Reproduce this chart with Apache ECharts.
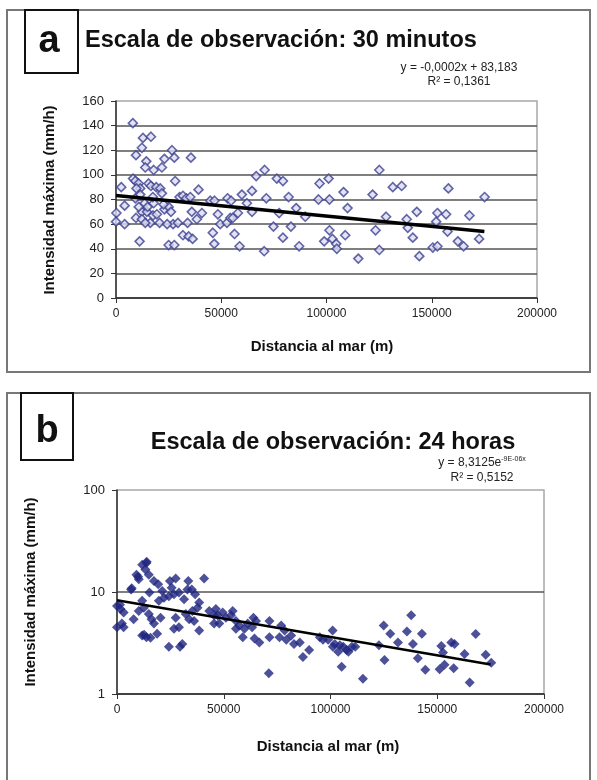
<!DOCTYPE html>
<html>
<head>
<meta charset="utf-8">
<script src="https://cdn.jsdelivr.net/npm/echarts@6/dist/echarts.min.js"></script>
<style>
html,body{margin:0;padding:0;background:#fff;}
#c{width:597px;height:780px;}
</style>
</head>
<body>
<div id="c"></div>
<script>
// ---- Panel a: 30 minutos (distance m, intensity mm/h)
var pointsA = [
[8000,142],[12800,130],[16600,131],[12300,122],[9500,116],[14400,111],[13900,106],[17900,104],[21800,106],[23000,113],[26600,120],[27700,114],[35600,114],
[8100,97],[9200,95],[10800,93],[11500,89],[9700,89],[15500,93],[16600,91],[19100,90],[21000,89],[28100,95],[39200,88],[2500,90],
[200,69],[4100,75],[0,62],[4100,60],[11200,46],[9500,65],[12300,70],[12300,64],[14700,70],[16300,61],[17600,67],[13600,77],[15000,74],[17900,77],[20700,61],[19400,68],[23000,72],[25000,74],[26100,70],[27100,60],[29400,61],[25000,43],[27700,43],
[30200,82],[31800,83],[33400,81],[35300,82],[36000,70],[34000,61],[31800,51],[34500,50],[36400,48],[38400,64],[40800,69],[44800,79],[46800,79],[48400,68],[46000,53],[46700,44],[49500,60],[53000,81],[54700,79],[52700,61],[54300,65],[55500,65],[57900,69],[56300,52],[58700,42],[59800,84],[62200,77],[64600,87],[64600,70],[66600,99],[70600,104],[71400,81],[70400,38],[74800,58],[76400,97],[79300,95],[77500,69],[79300,49],[82000,82],[83100,58],[85600,73],[87000,42],[89900,66],[96200,80],[96700,93],[101000,97],[101400,80],[98900,46],[101400,55],[102800,48],[104600,44],[104900,40],[108100,86],[110000,73],[108900,51],
[115100,32],[121900,84],[125100,104],[123300,55],[125100,39],[128300,66],[131500,90],[135700,91],[138100,64],[138600,57],[141000,49],[142900,70],[144100,34],[150500,41],[152700,42],[152100,62],[152700,69],[156800,68],[157900,89],[157500,54],[162400,46],[165100,42],[167900,67],[172500,48],[175100,82],
[9200,81],[11500,84],[10800,74],[17500,82],[21800,85],[24300,60],[22600,76],[13900,61]
];
var trendA = [[0,83.2],[175000,54]];

// ---- Panel b: 24 horas
var pointsB = [
[13800,19.2],[11800,18.5],[14900,14.8],[9100,14.8],[10200,13.3],[13300,16.6],[6600,10.6],[15200,9.9],[17300,12.8],[19300,11.9],[21200,10.2],[19600,8.2],[22000,8.8],[24800,12.8],[27500,13.6],[25600,11.0],[24300,9.1],[26700,9.5],[29000,9.9],[33400,12.8],[33000,10.6],[35000,10.6],[36600,9.5],[31400,8.5],[40800,13.6],
[0,7.3],[1600,6.8],[3100,6.3],[0,4.5],[3100,4.5],[7800,5.4],[10200,6.5],[11800,8.2],[12600,7.0],[14900,6.1],[16200,5.4],[20400,5.6],[17300,4.9],[11800,3.75],[13800,3.6],[15700,3.57],[18800,3.9],[24300,2.9],[29500,2.9],[30600,3.1],[27500,5.6],[29000,4.5],[26700,4.35],[32200,6.1],[33800,5.4],[36100,5.2],[38500,4.2],[37700,7.0],[38500,7.9],[35300,6.5],
[43200,6.5],[46300,6.8],[45500,5.9],[47100,5.9],[49500,6.3],[45500,4.9],[47900,4.9],[54200,6.5],[53400,5.9],[55700,5.2],[51000,5.6],[57300,4.7],[59700,4.35],[55700,4.35],[58900,3.6],[61200,4.9],[63900,5.6],[65100,5.2],[63300,4.5],[64400,3.5],[66700,3.2],[71400,5.2],[71400,3.6],[76100,3.6],[76900,4.7],[78500,4.2],[79300,3.4],[81600,3.75],[82900,3.1],[85600,3.2],[87100,2.3],[90000,2.7],[71100,1.6],[95000,3.6],[96500,3.4],[98900,3.4],[101000,4.2],[102000,3.1],[103600,2.6],[105200,1.85],[107500,2.7],
[101100,2.9],[104400,3.0],[106000,2.9],[108400,2.6],[110000,2.9],[111600,2.9],[115200,1.41],[122700,3.0],[124900,4.7],[125300,2.16],[128000,3.9],[131600,3.2],[135800,4.1],[137800,5.9],[138600,3.1],[140900,2.24],[142800,3.9],[144400,1.73],[151100,1.75],[151900,2.96],[153400,1.93],[152700,2.55],[156600,3.2],[158100,3.1],[157700,1.79],[162800,2.47],[165200,1.3],[168000,3.87],[172700,2.42],[175300,2.03],
[13900,19.8],[9900,14.1],[6900,10.9],[1400,7.5],[2300,4.9],[12700,3.8]
];
var trendB = [[0,8.3],[175000,1.95]];

var titleA = 'Escala de observación: 30 minutos';
var titleB = 'Escala de observación: 24 horas';
var eqA = 'y = -0,0002x + 83,183';
var r2A = 'R² = 0,1361';
var eqBmain = 'y = 8,3125e';
var eqBexp = '-9E-06x';
var r2B = 'R² = 0,5152';
var xTitle = 'Distancia al mar (m)';
var yTitle = 'Intensidad máxima (mm/h)';

var FONT = '"Liberation Sans", Arial, sans-serif';
var chart = echarts.init(document.getElementById('c'), null, {renderer:'canvas'});

function xAxisCfg(gi){
  return {
    type:'value', gridIndex:gi, min:0, max:200000, interval:50000,
    axisLine:{show:true, onZero:false, lineStyle:{color:'#333', width:1.5}},
    axisTick:{show:true, inside:false, length:5, lineStyle:{color:'#333'}},
    axisLabel:{color:'#222', fontSize:12, fontFamily:FONT, margin:10, formatter:function(v){return String(v);}},
    splitLine:{show:false}
  };
}

var option = {
  animation:false,
  backgroundColor:'#fff',
  grid:[
    {left:116, top:101, width:421, height:197, show:true, borderColor:'#a8a8a8', borderWidth:1.5, backgroundColor:'transparent'},
    {left:117, top:490, width:427, height:204, show:true, borderColor:'#a8a8a8', borderWidth:1.5, backgroundColor:'transparent'}
  ],
  xAxis:[xAxisCfg(0), xAxisCfg(1)],
  yAxis:[
    {type:'value', gridIndex:0, min:0, max:160, interval:20,
     axisLine:{show:true, onZero:false, lineStyle:{color:'#333', width:1.5}},
     axisTick:{show:true, inside:false, length:5, lineStyle:{color:'#333'}},
     axisLabel:{color:'#222', fontSize:13, fontFamily:FONT, margin:12},
     splitLine:{show:true, showMaxLine:false, lineStyle:{color:'#555', width:1.5}}},
    {type:'log', logBase:10, gridIndex:1, min:1, max:100,
     axisLine:{show:true, onZero:false, lineStyle:{color:'#333', width:1.5}},
     axisTick:{show:true, inside:false, length:5, lineStyle:{color:'#333'}},
     axisLabel:{color:'#222', fontSize:13, fontFamily:FONT, margin:12},
     minorTick:{show:false},
     splitLine:{show:true, showMaxLine:false, lineStyle:{color:'#555', width:1.5}}}
  ],
  series:[
    {type:'scatter', xAxisIndex:0, yAxisIndex:0, data:pointsA, symbol:'diamond', symbolSize:9,
     itemStyle:{color:'#dcdcf0', borderColor:'#3c4090', borderWidth:1.6}, z:3},
    {type:'line', xAxisIndex:0, yAxisIndex:0, data:trendA, showSymbol:false, symbol:'none',
     lineStyle:{color:'#000', width:3.5}, z:5},
    {type:'scatter', xAxisIndex:1, yAxisIndex:1, data:pointsB, symbol:'diamond', symbolSize:10,
     itemStyle:{color:'#1f2580'}, z:3},
    {type:'line', xAxisIndex:1, yAxisIndex:1, data:trendB, showSymbol:false, symbol:'none',
     lineStyle:{color:'#000', width:2.5}, z:5}
  ],
  graphic:[
    {type:'rect', shape:{x:7, y:10, width:583, height:362}, style:{fill:'none', stroke:'#777', lineWidth:2}},
    {type:'rect', shape:{x:7, y:393, width:583, height:420}, style:{fill:'none', stroke:'#777', lineWidth:2}},
    {type:'rect', shape:{x:25, y:10, width:53, height:63}, style:{fill:'none', stroke:'#111', lineWidth:2}},
    {type:'rect', shape:{x:21, y:393, width:52, height:67}, style:{fill:'none', stroke:'#111', lineWidth:2}},
    {type:'text', x:49, y:42, style:{text:'a', font:'bold 38px ' + FONT, fill:'#111', align:'center', verticalAlign:'middle'}},
    {type:'text', x:47, y:432, style:{text:'b', font:'bold 38px ' + FONT, fill:'#111', align:'center', verticalAlign:'middle'}},
    {type:'text', x:85, y:41, style:{text:titleA, font:'bold 23.5px ' + FONT, fill:'#111', align:'left', verticalAlign:'middle'}},
    {type:'text', x:333, y:443, style:{text:titleB, font:'bold 23.5px ' + FONT, fill:'#111', align:'center', verticalAlign:'middle'}},
    {type:'text', x:459, y:68, style:{text:eqA, font:'12px ' + FONT, fill:'#222', align:'center', verticalAlign:'middle'}},
    {type:'text', x:459, y:82, style:{text:r2A, font:'12px ' + FONT, fill:'#222', align:'center', verticalAlign:'middle'}},
    {type:'text', x:482, y:463, style:{text:'{m|' + eqBmain + '}{s|' + eqBexp + '}', align:'center', verticalAlign:'middle', fill:'#222',
      rich:{m:{fontSize:12, fontFamily:FONT, fill:'#222', lineHeight:14}, s:{fontSize:7, fontFamily:FONT, fill:'#222', lineHeight:8, verticalAlign:'top'}}}},
    {type:'text', x:482, y:478, style:{text:r2B, font:'12px ' + FONT, fill:'#222', align:'center', verticalAlign:'middle'}},
    {type:'text', x:322, y:347, style:{text:xTitle, font:'bold 15px ' + FONT, fill:'#111', align:'center', verticalAlign:'middle'}},
    {type:'text', x:328, y:747, style:{text:xTitle, font:'bold 15px ' + FONT, fill:'#111', align:'center', verticalAlign:'middle'}},
    {type:'text', x:50, y:200, rotation:Math.PI/2, style:{text:yTitle, font:'bold 15px ' + FONT, fill:'#111', align:'center', verticalAlign:'middle'}},
    {type:'text', x:31, y:592, rotation:Math.PI/2, style:{text:yTitle, font:'bold 15px ' + FONT, fill:'#111', align:'center', verticalAlign:'middle'}}
  ]
};
chart.setOption(option);
</script>
</body>
</html>
